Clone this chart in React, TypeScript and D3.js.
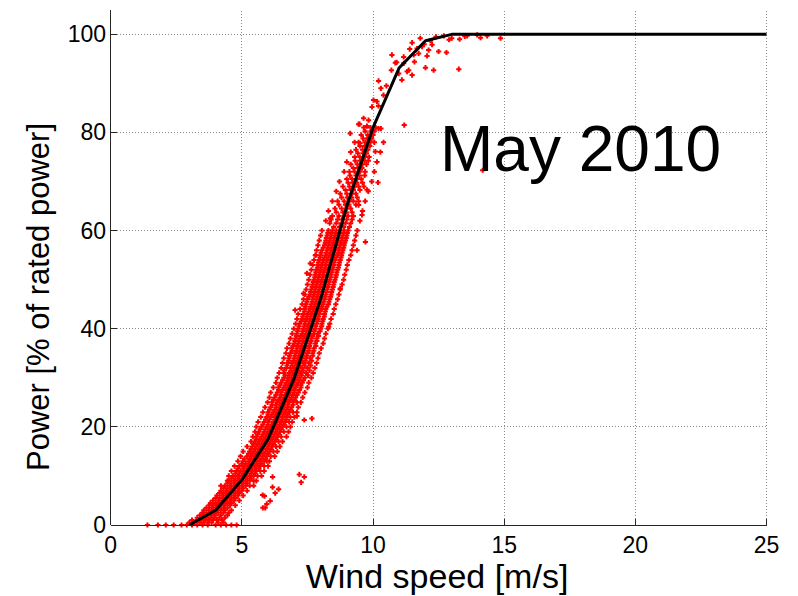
import React from "react";
import * as d3 from "d3";

// Power curve (black line)
const curveWind = [3, 4, 5, 6, 7, 8, 9, 10, 11, 12, 13, 14, 15, 16, 17, 18, 19, 20, 21, 22, 23, 24, 25];
const curvePower = [0, 3, 9.2, 17.5, 30, 46, 65, 81, 93.2, 98.7, 100, 100, 100, 100, 100, 100, 100, 100, 100, 100, 100, 100, 100];

// Measured points, grouped by power level (power %, wind speeds m/s)
const rowPower = [
  0, 0.5, 1, 1.5, 2, 2.5, 3, 3.5, 4, 4.5, 5, 5.5, 6, 6.5, 7, 7.5, 8, 8.5, 9, 9.5,
  10, 10.5, 11, 11.5, 12, 12.5, 13, 13.5, 14, 14.5, 15, 15.5, 16, 16.5, 17, 17.5, 18, 18.5, 19, 19.5,
  20, 20.5, 21, 21.5, 22, 22.5, 23, 23.5, 24, 24.5, 25, 25.5, 26, 26.5, 27, 27.5, 28, 28.5, 29, 29.5,
  30, 31, 32, 33, 34, 35, 36, 37, 38, 39, 40, 41, 42, 43, 44, 45, 46, 47, 48, 49,
  50, 51, 52, 53, 54, 55, 56, 57, 58, 59, 60, 61.5, 63, 64.5, 66, 67.5, 69, 70.5, 72, 73.5,
  75, 76.5, 78, 79.5, 81,
];
const rowWind = [
  [1.4, 1.8, 2.1, 2.4, 2.7, 2.9, 3.1, 3.3, 3.5, 3.7, 4.0, 4.2, 4.4, 4.6, 4.8],
  [3.0, 3.2, 3.4, 3.55, 3.7, 3.85, 4.1, 4.3],
  [3.1, 3.3, 3.45, 3.6, 3.75, 3.9, 4.05, 4.25],
  [3.3, 3.5, 3.65, 3.8, 3.95, 4.15, 4.35],
  [3.4, 3.55, 3.7, 3.85, 4.0, 4.2, 4.45],
  [3.5, 3.65, 3.8, 3.95, 4.1, 4.3, 4.5],
  [3.55, 3.75, 3.9, 4.05, 4.2, 4.35, 4.6],
  [3.65, 3.85, 4.0, 4.15, 4.3, 4.45],
  [3.75, 3.9, 4.05, 4.2, 4.35, 4.55, 4.75],
  [3.8, 4.0, 4.15, 4.3, 4.45, 4.6],
  [3.9, 4.1, 4.25, 4.4, 4.55, 4.7, 4.9],
  [4.0, 4.15, 4.3, 4.45, 4.6, 4.75],
  [4.05, 4.25, 4.4, 4.55, 4.7, 4.85, 5.05],
  [4.15, 4.3, 4.45, 4.6, 4.75, 4.9],
  [4.2, 4.4, 4.55, 4.7, 4.85, 5.0, 5.2],
  [4.3, 4.45, 4.6, 4.75, 4.9, 5.05],
  [4.35, 4.55, 4.7, 4.85, 5.0, 5.15, 5.3],
  [4.45, 4.6, 4.75, 4.9, 5.05, 5.2],
  [4.5, 4.7, 4.85, 5.0, 5.15, 5.3, 5.45],
  [4.6, 4.75, 4.9, 5.05, 5.2, 5.35],
  [4.65, 4.85, 5.0, 5.15, 5.3, 5.45, 5.6],
  [4.75, 4.9, 5.05, 5.2, 5.35, 5.5],
  [4.8, 4.95, 5.1, 5.25, 5.4, 5.55, 5.7],
  [4.85, 5.05, 5.2, 5.35, 5.5, 5.65],
  [4.9, 5.1, 5.25, 5.4, 5.55, 5.7, 5.85],
  [5.0, 5.15, 5.3, 5.45, 5.6, 5.75],
  [5.05, 5.25, 5.4, 5.55, 5.7, 5.85, 5.95],
  [5.1, 5.3, 5.45, 5.6, 5.75, 5.9],
  [5.2, 5.35, 5.5, 5.65, 5.8, 5.95, 6.1],
  [5.25, 5.4, 5.55, 5.7, 5.85, 6.0],
  [5.3, 5.45, 5.6, 5.75, 5.9, 6.05, 6.2],
  [5.35, 5.5, 5.65, 5.8, 5.95, 6.1],
  [5.4, 5.55, 5.7, 5.85, 6.0, 6.15, 6.3],
  [5.45, 5.6, 5.75, 5.9, 6.05, 6.2],
  [5.5, 5.65, 5.8, 5.95, 6.1, 6.25, 6.4],
  [5.55, 5.7, 5.85, 6.0, 6.15, 6.3],
  [5.55, 5.75, 5.9, 6.05, 6.2, 6.35, 6.5],
  [5.6, 5.8, 5.95, 6.1, 6.25, 6.4],
  [5.65, 5.85, 6.0, 6.15, 6.3, 6.45, 6.6],
  [5.7, 5.9, 6.05, 6.2, 6.35, 6.5],
  [5.75, 5.95, 6.1, 6.25, 6.4, 6.55, 6.7],
  [5.8, 6.0, 6.15, 6.3, 6.45, 6.6],
  [5.85, 6.0, 6.2, 6.35, 6.5, 6.65, 6.8],
  [5.9, 6.05, 6.25, 6.4, 6.55, 6.7],
  [5.95, 6.1, 6.25, 6.4, 6.55, 6.7, 6.85],
  [6.0, 6.15, 6.3, 6.45, 6.6, 6.75],
  [6.0, 6.2, 6.35, 6.5, 6.65, 6.8, 6.95],
  [6.05, 6.25, 6.4, 6.55, 6.7, 6.85],
  [6.1, 6.3, 6.45, 6.6, 6.75, 6.9],
  [6.15, 6.3, 6.45, 6.6, 6.75, 6.95],
  [6.15, 6.35, 6.5, 6.65, 6.8, 6.95, 7.1],
  [6.2, 6.4, 6.55, 6.7, 6.85, 7.0],
  [6.25, 6.45, 6.6, 6.75, 6.9, 7.05],
  [6.3, 6.5, 6.65, 6.8, 6.95, 7.1],
  [6.35, 6.5, 6.7, 6.85, 7.0, 7.15],
  [6.4, 6.55, 6.7, 6.85, 7.0, 7.2],
  [6.4, 6.6, 6.75, 6.9, 7.05, 7.25],
  [6.45, 6.65, 6.8, 6.95, 7.1, 7.25],
  [6.5, 6.7, 6.85, 7.0, 7.15, 7.3],
  [6.55, 6.75, 6.9, 7.05, 7.2, 7.35],
  [6.6, 6.75, 6.9, 7.05, 7.2, 7.4],
  [6.6, 6.8, 6.95, 7.1, 7.25, 7.45],
  [6.7, 6.85, 7.0, 7.15, 7.3, 7.5],
  [6.75, 6.9, 7.05, 7.2, 7.35, 7.55],
  [6.8, 7.0, 7.15, 7.3, 7.45, 7.6],
  [6.85, 7.05, 7.2, 7.35, 7.5, 7.7],
  [6.9, 7.1, 7.25, 7.4, 7.55, 7.75],
  [7.0, 7.15, 7.3, 7.45, 7.6, 7.8],
  [7.05, 7.2, 7.35, 7.5, 7.65, 7.85],
  [7.1, 7.3, 7.45, 7.6, 7.75, 7.9],
  [7.15, 7.35, 7.5, 7.65, 7.8, 8.0],
  [7.2, 7.4, 7.55, 7.7, 7.85, 8.05],
  [7.3, 7.45, 7.6, 7.75, 7.9, 8.1],
  [7.35, 7.5, 7.65, 7.8, 7.95, 8.15],
  [7.4, 7.6, 7.75, 7.9, 8.05, 8.2],
  [7.45, 7.65, 7.8, 7.95, 8.1, 8.3],
  [7.5, 7.7, 7.85, 8.0, 8.15, 8.35],
  [7.6, 7.75, 7.9, 8.05, 8.2, 8.4],
  [7.65, 7.8, 7.95, 8.1, 8.25, 8.45],
  [7.7, 7.85, 8.0, 8.15, 8.3, 8.5],
  [7.75, 7.9, 8.05, 8.2, 8.35, 8.55],
  [7.8, 7.95, 8.1, 8.25, 8.4, 8.6],
  [7.85, 8.0, 8.15, 8.3, 8.45, 8.65],
  [7.9, 8.05, 8.2, 8.35, 8.5, 8.7],
  [7.95, 8.1, 8.25, 8.4, 8.55, 8.75],
  [8.0, 8.2, 8.35, 8.5, 8.65, 8.8],
  [8.05, 8.25, 8.4, 8.55, 8.7, 8.85],
  [8.15, 8.3, 8.45, 8.6, 8.75, 8.9],
  [8.2, 8.35, 8.5, 8.65, 8.8, 8.95],
  [8.25, 8.4, 8.55, 8.7, 8.85, 9.0],
  [8.3, 8.45, 8.6, 8.75, 8.9, 9.05],
  [8.35, 8.6, 8.8, 8.95, 9.15],
  [8.45, 8.7, 8.9, 9.05, 9.25],
  [8.55, 8.8, 9.0, 9.15],
  [8.65, 8.9, 9.1, 9.25, 9.45],
  [8.75, 9.0, 9.2, 9.35],
  [8.85, 9.1, 9.3, 9.45, 9.65],
  [9.0, 9.2, 9.4, 9.55],
  [9.1, 9.3, 9.5, 9.7],
  [9.15, 9.4, 9.6, 9.75],
  [9.3, 9.5, 9.7, 9.85],
  [9.35, 9.6, 9.8],
  [9.45, 9.7, 9.9, 10.05],
  [9.55, 9.8, 10.0],
  [9.65, 9.9, 10.1],
];

// Points lying between the rows above (power %, wind speeds m/s)
const midPower = [
  30.5, 31.5, 32.5, 33.5, 34.5, 35.5, 36.5, 37.5, 38.5, 39.5, 40.5, 41.5, 42.5, 43.5, 44.5,
  45.5, 46.5, 47.5, 48.5, 49.5, 50.5, 51.5, 52.5, 53.5, 54.5, 55.5, 56.5, 57.5, 58.5, 59.5,
  60.75, 62.25, 63.75, 65.25, 66.75, 68.25, 69.75, 71.25, 72.75, 74.25, 75.75, 77.25, 78.75, 80.25,
];
const midWind = [
  [6.65, 6.82, 6.98, 7.12, 7.28, 7.52],
  [6.62, 6.88, 7.02, 7.18, 7.34, 7.58],
  [6.72, 6.93, 7.08, 7.22, 7.4, 7.62],
  [6.78, 6.97, 7.12, 7.27, 7.42, 7.66],
  [6.82, 7.02, 7.18, 7.33, 7.48, 7.7],
  [6.92, 7.08, 7.22, 7.38, 7.55, 7.74],
  [6.95, 7.12, 7.28, 7.44, 7.58, 7.82],
  [7.02, 7.18, 7.34, 7.48, 7.64, 7.86],
  [7.08, 7.25, 7.4, 7.54, 7.7, 7.92],
  [7.12, 7.32, 7.46, 7.6, 7.76, 7.98],
  [7.18, 7.38, 7.52, 7.68, 7.82, 8.04],
  [7.26, 7.42, 7.58, 7.72, 7.88, 8.08],
  [7.32, 7.48, 7.62, 7.78, 7.92, 8.14],
  [7.38, 7.55, 7.7, 7.84, 7.98, 8.18],
  [7.42, 7.62, 7.76, 7.9, 8.04, 8.24],
  [7.48, 7.68, 7.82, 7.98, 8.12, 8.32],
  [7.55, 7.72, 7.88, 8.02, 8.18, 8.38],
  [7.62, 7.78, 7.92, 8.08, 8.22, 8.42],
  [7.68, 7.82, 7.98, 8.12, 8.28, 8.48],
  [7.72, 7.88, 8.02, 8.18, 8.32, 8.52],
  [7.78, 7.92, 8.08, 8.22, 8.38, 8.58],
  [7.82, 7.98, 8.12, 8.28, 8.42, 8.62],
  [7.88, 8.02, 8.18, 8.32, 8.48, 8.68],
  [7.92, 8.08, 8.22, 8.38, 8.52, 8.72],
  [7.98, 8.15, 8.3, 8.45, 8.6, 8.78],
  [8.02, 8.22, 8.38, 8.52, 8.68, 8.82],
  [8.1, 8.28, 8.42, 8.58, 8.72, 8.88],
  [8.18, 8.32, 8.48, 8.62, 8.78, 8.92],
  [8.22, 8.38, 8.52, 8.68, 8.82, 8.98],
  [8.28, 8.42, 8.58, 8.72, 8.88, 9.02],
  [8.5, 8.72, 8.88, 9.1],
  [8.4, 8.65, 8.82, 9.0, 9.2],
  [8.6, 8.85, 8.98, 9.2],
  [8.7, 8.95, 9.08, 9.35],
  [8.8, 9.02, 9.18, 9.4],
  [8.95, 9.15, 9.25, 9.5],
  [9.05, 9.22, 9.38, 9.6],
  [9.12, 9.35, 9.48, 9.68],
  [9.25, 9.42, 9.58],
  [9.32, 9.5, 9.68, 9.82],
  [9.42, 9.62, 9.75],
  [9.5, 9.68, 9.88],
  [9.62, 9.78, 9.95],
  [9.7, 9.92, 10.05],
];

// Outer fringe of the cloud (power %, left and right wind speeds m/s)
const edgePower = [
  8, 9, 10, 11, 12, 13, 14, 15, 16, 17, 18, 19, 20, 21, 22, 23, 24, 25, 26, 27, 28, 29,
  30, 31, 32, 33, 34, 35, 36, 37, 38, 39, 40, 41, 42, 43, 44, 45, 46, 47, 48, 49,
  50, 51, 52, 53, 54, 55, 56, 57, 58, 59, 60, 62, 64, 66, 68, 70, 72, 74, 76, 78,
];
const edgeLeft = [
  4.2, 4.45, 4.5, 4.6, 4.72, 4.85, 4.95, 5.05, 5.2, 5.35, 5.42, 5.5, 5.55, 5.62, 5.72, 5.8, 5.88, 5.98, 6.05, 6.1, 6.2, 6.3,
  6.35, 6.42, 6.5, 6.55, 6.6, 6.68, 6.72, 6.8, 6.85, 6.92, 6.98, 7.05, 7.1, 7.15, 7.22, 7.3, 7.35, 7.4, 7.45, 7.5,
  7.55, 7.6, 7.65, 7.7, 7.75, 7.82, 7.85, 7.9, 7.95, 8.0, 8.05, 8.2, 8.3, 8.45, 8.6, 8.72, 8.9, 9.0, 9.15, 9.3,
];
const edgeRight = [
  5.45, 5.55, 5.75, 5.85, 6.0, 6.05, 6.25, 6.35, 6.45, 6.55, 6.7, 6.78, 6.85, 6.92, 7.0, 7.1, 7.15, 7.25, 7.32, 7.4, 7.5, 7.55,
  7.65, 7.72, 7.78, 7.85, 7.9, 7.95, 8.02, 8.1, 8.15, 8.2, 8.28, 8.35, 8.4, 8.48, 8.52, 8.58, 8.65, 8.7, 8.75, 8.82,
  8.88, 8.92, 8.98, 9.02, 9.08, 9.15, 9.2, 9.25, 9.3, 9.35, 9.4, 9.5, 9.6, 9.7, 9.82, 9.95, 10.05, 10.15, 10.28, 10.4,
];

// Scattered individual points (wind m/s, power %)
const looseWind = [
  11.49, 11.8, 12.19, 12.5, 12.8, 12.31, 12.0, 11.3, 11.49, 11.1, 10.9, 11.58, 11.74, 11.68, 12.12, 12.06,
  11.55, 11.17, 11.36, 10.98, 10.7, 10.85, 10.51, 10.4, 10.21, 10.3, 10.02, 10.15, 9.96, 10.21, 9.83, 10.21,
  10.3, 9.77, 9.49, 9.64, 10.72, 11.17, 11.87, 12.7, 13.0, 13.3, 13.59, 13.97, 14.35, 14.86, 13.27, 11.19,
  14.18, 10.19, 10.09, 9.71, 9.39, 8.37, 7.8, 7.48, 7.35, 7.03, 8.31, 9.77, 9.51, 9.13, 9.45, 9.58, 9.45,
  8.75, 7.61, 7.1, 7.38, 7.67, 7.19, 7.38, 7.26, 6.17, 6.17, 6.4, 6.27, 5.79, 5.86, 6.08, 5.95, 5.89, 5.8,
  12.4, 12.9, 13.5, 14.1, 12.25, 11.95, 11.4,
];
const loosePower = [
  98.3, 99.2, 98.7, 96.5, 96.3, 92.7, 93.2, 92.4, 91.7, 90.7, 94.3, 94.4, 96.1, 97.1, 96.8, 95.6,
  95.8, 94.1, 92.7, 92.0, 92.7, 94.2, 89.5, 87.6, 90.5, 89.0, 86.6, 86.3, 85.2, 85.4, 82.5, 80.8,
  80.8, 81.3, 81.7, 82.9, 95.8, 95.4, 97.5, 99.7, 99.2, 99.0, 99.7, 99.9, 99.7, 99.2, 92.9, 81.5,
  72.3, 69.8, 76.1, 57.7, 56.0, 62.5, 55.0, 51.3, 47.2, 43.8, 40.4, 68.3, 77.8, 79.8, 81.7, 63.2, 65.2,
  48.2, 53.3, 22.2, 21.4, 21.7, 10.3, 9.8, 8.7, 9.8, 7.7, 7.3, 6.5, 6.1, 5.9, 4.9, 4.3, 3.5, 3.5,
  99.5, 98.9, 99.6, 99.3, 97.9, 98.0, 97.0,
];

const xTicks = [0, 5, 10, 15, 20, 25];
const yTicks = [0, 20, 40, 60, 80, 100];

const W = 798;
const H = 596;

export default function App() {
  const x = d3.scaleLinear().domain([0, 25]).range([110.7, 766.5]);
  const y = d3.scaleLinear().domain([0, 105]).range([525, 9.8]);

  const pts: [number, number][] = [];
  rowPower.forEach((p, i) => {
    (rowWind[i] || []).forEach((w) => pts.push([w, p]));
  });
  midPower.forEach((p, i) => {
    (midWind[i] || []).forEach((w) => pts.push([w, p]));
  });
  edgePower.forEach((p, i) => {
    pts.push([edgeLeft[i], p]);
    pts.push([edgeRight[i], p]);
  });
  looseWind.forEach((w, i) => pts.push([w, loosePower[i]]));

  const line = d3
    .line<number>()
    .x((_, i) => x(curveWind[i]))
    .y((d) => y(d));

  const font = "'Liberation Sans', Arial, Helvetica, sans-serif";
  const axisColor = "#262626";

  return (
    <div style={{ position: "fixed", left: 0, top: 0 }}>
      <svg width={W} height={H} style={{ display: "block", background: "#fff" }}>
        <rect width={W} height={H} fill="#fff" />
        {/* grid */}
        <g stroke="#8a8a8a" strokeWidth={1} strokeDasharray="1,2" shapeRendering="crispEdges">
          {xTicks.map((t) => (
            <line key={"gx" + t} x1={x(t)} x2={x(t)} y1={y(0)} y2={y(105)} />
          ))}
          {yTicks.map((t) => (
            <line key={"gy" + t} x1={x(0)} x2={x(25)} y1={y(t)} y2={y(t)} />
          ))}
        </g>
        {/* scatter */}
        <g stroke="#ff0000" strokeWidth={2} fill="none">
          {pts.map(([w, p], i) => {
            const cx = x(w);
            const cy = y(p);
            return <path key={i} d={`M${cx - 2.6},${cy}H${cx + 2.6}M${cx},${cy - 2.6}V${cy + 2.6}`} />;
          })}
        </g>
        {/* power curve */}
        <path d={line(curvePower) || ""} fill="none" stroke="#000" strokeWidth={3} strokeLinejoin="round" />
        {/* axes */}
        <g stroke={axisColor} strokeWidth={1} shapeRendering="crispEdges">
          <line x1={x(0)} x2={x(0)} y1={y(0)} y2={y(105)} />
          <line x1={x(0)} x2={x(25)} y1={y(0)} y2={y(0)} />
          {xTicks.map((t) => (
            <line key={"tx" + t} x1={x(t)} x2={x(t)} y1={y(0)} y2={y(0) - 6} />
          ))}
          {yTicks.map((t) => (
            <line key={"ty" + t} x1={x(0)} x2={x(0) + 6} y1={y(t)} y2={y(t)} />
          ))}
        </g>
        <g fontFamily={font} fontSize={23} fill="#000">
          {xTicks.map((t) => (
            <text key={"lx" + t} x={x(t)} y={553} textAnchor="middle">
              {t}
            </text>
          ))}
          {yTicks.map((t) => (
            <text key={"ly" + t} x={106} y={y(t) + 8} textAnchor="end">
              {t}
            </text>
          ))}
        </g>
        <text x={437} y={588} textAnchor="middle" fontFamily={font} fontSize={34} fill="#000">
          Wind speed [m/s]
        </text>
        <text
          transform={`translate(49,297) rotate(-90)`}
          textAnchor="middle"
          fontFamily={font}
          fontSize={31}
          fill="#000"
        >
          Power [% of rated power]
        </text>
        <text x={440} y={171} fontFamily={font} fontSize={64} fill="#000">
          May 2010
        </text>
      </svg>
    </div>
  );
}
